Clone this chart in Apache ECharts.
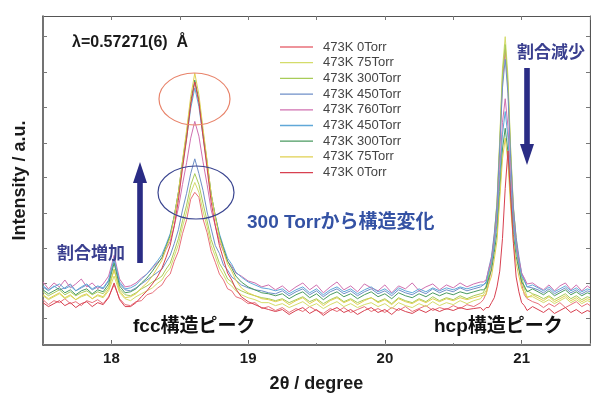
<!DOCTYPE html>
<html>
<head>
<meta charset="utf-8">
<script src="https://cdn.jsdelivr.net/npm/echarts@6/dist/echarts.min.js"></script>
<style>
  html, body { margin: 0; padding: 0; background: #fff; }
  #main { width: 591px; height: 398px; }
</style>
</head>
<body>
<div id="main"></div>
<script>
// 2theta sampling (degree)
var twoTheta = [
  17.50, 17.54, 17.58, 17.62, 17.66, 17.70, 17.74, 17.78, 17.82, 17.86, 17.90, 17.94, 17.98, 18.02, 18.06, 18.10, 18.14, 18.18, 18.22, 18.26, 18.30,
  18.34, 18.37, 18.40, 18.43, 18.46, 18.49, 18.52, 18.55, 18.58, 18.61, 18.64, 18.67, 18.70, 18.73, 18.76, 18.79, 18.82, 18.85, 18.88, 18.91,
  18.95, 19.00, 19.05, 19.10, 19.15, 19.20, 19.25, 19.30, 19.35, 19.40, 19.45, 19.50, 19.55, 19.60, 19.65, 19.70, 19.75, 19.80, 19.85, 19.90,
  19.95, 20.00, 20.05, 20.10, 20.15, 20.20, 20.25, 20.30, 20.35, 20.40, 20.45, 20.50, 20.55, 20.60, 20.65, 20.70,
  20.72, 20.74, 20.76, 20.78, 20.80, 20.82, 20.84, 20.86, 20.88, 20.90, 20.92, 20.94, 20.96, 20.98, 21.00, 21.02, 21.04,
  21.08, 21.12, 21.16, 21.20, 21.24, 21.28, 21.32, 21.36, 21.40, 21.44, 21.48, 21.50
];

// intensity (a.u.) per measurement
var int0a = [
  46, 41, 45, 43, 47, 42, 44, 40, 45, 43, 46, 42, 49, 61, 47, 41, 40, 44, 45, 51, 53,
  58, 61, 68, 72, 85, 95, 113, 127, 148, 155, 150, 128, 114, 95, 84, 72, 66, 57, 55, 49,
  47, 42, 43, 37, 39, 35, 38, 33, 37, 34, 39, 35, 32, 37, 34, 38, 33, 36, 39, 34, 37, 33, 38, 35, 39, 34, 37, 40, 35, 38, 36, 40, 37, 41, 39, 43,
  46, 52, 63, 80, 103, 138, 200, 268, 300, 262, 190, 133, 101, 78, 62, 51, 47,
  44, 42, 38, 42, 39, 43, 38, 41, 44, 39, 42, 40
];
var int75a = [
  50, 46, 49, 52, 47, 50, 46, 49, 51, 47, 50, 48, 55, 70, 53, 47, 45, 49, 52, 55, 58,
  63, 66, 73, 78, 90, 102, 120, 135, 154, 165, 155, 136, 120, 101, 90, 78, 71, 63, 60, 55,
  51, 48, 46, 43, 43, 40, 42, 38, 41, 44, 39, 42, 37, 41, 44, 39, 42, 38, 41, 43, 39, 42, 37, 43, 40, 38, 42, 39, 44, 40, 43, 41, 45, 42, 45, 47,
  51, 55, 70, 84, 111, 146, 209, 281, 313, 273, 198, 141, 106, 84, 65, 57, 49,
  49, 46, 43, 46, 42, 45, 48, 43, 46, 42, 45, 44
];
var int300a = [
  54, 50, 53, 56, 51, 54, 50, 53, 55, 51, 54, 52, 59, 77, 57, 51, 50, 53, 57, 60, 64,
  67, 70, 77, 83, 95, 108, 126, 142, 162, 174, 163, 144, 126, 107, 95, 83, 76, 67, 64, 58,
  55, 52, 50, 48, 47, 45, 47, 43, 46, 49, 44, 47, 42, 46, 49, 44, 47, 43, 46, 48, 44, 47, 42, 48, 45, 43, 47, 44, 49, 45, 48, 46, 50, 47, 50, 52,
  53, 60, 71, 88, 110, 145, 206, 275, 305, 265, 197, 138, 109, 84, 70, 58, 55,
  52, 50, 47, 50, 46, 49, 52, 47, 50, 46, 49, 48
];
var int450a = [
  59, 55, 60, 56, 58, 62, 55, 58, 61, 56, 59, 57, 65, 86, 62, 56, 55, 58, 62, 66, 70,
  74, 77, 84, 91, 103, 117, 137, 154, 174, 189, 174, 157, 135, 118, 101, 93, 81, 76, 69, 66,
  61, 58, 56, 55, 53, 52, 55, 50, 54, 57, 51, 55, 49, 54, 57, 52, 55, 50, 54, 57, 52, 55, 50, 56, 53, 51, 55, 52, 57, 53, 56, 54, 58, 55, 57, 59,
  61, 64, 78, 90, 113, 142, 201, 261, 290, 255, 189, 139, 109, 90, 73, 66, 59,
  58, 56, 53, 57, 52, 55, 58, 53, 56, 52, 55, 54
];
var int760 = [
  64, 57, 63, 59, 66, 58, 62, 67, 59, 63, 57, 62, 70, 91, 67, 59, 60, 63, 68, 72, 78,
  84, 88, 97, 105, 121, 139, 163, 185, 210, 227, 212, 186, 163, 137, 121, 105, 95, 85, 80, 73,
  70, 65, 63, 59, 61, 56, 60, 54, 59, 63, 56, 61, 53, 59, 64, 56, 60, 54, 62, 58, 55, 61, 53, 60, 57, 63, 55, 59, 62, 56, 61, 58, 63, 59, 62, 64,
  64, 66, 77, 87, 106, 129, 178, 226, 250, 222, 168, 127, 102, 87, 73, 68, 62,
  63, 59, 56, 61, 55, 60, 63, 56, 61, 55, 60, 58
];
var int450b = [
  60, 56, 59, 62, 57, 60, 55, 59, 62, 57, 60, 58, 66, 88, 64, 57, 58, 61, 67, 72, 79,
  86, 92, 102, 113, 131, 154, 183, 210, 240, 261, 242, 212, 183, 152, 131, 113, 100, 88, 82, 74,
  69, 64, 61, 58, 57, 55, 57, 52, 56, 59, 53, 57, 51, 56, 59, 54, 57, 52, 56, 59, 54, 57, 52, 58, 55, 53, 57, 54, 58, 55, 58, 56, 59, 57, 59, 61,
  61, 63, 74, 83, 102, 123, 169, 214, 237, 211, 160, 122, 98, 83, 70, 65, 59,
  61, 58, 55, 59, 54, 57, 60, 55, 58, 54, 57, 56
];
var int300b = [
  56, 52, 55, 58, 53, 56, 51, 55, 57, 52, 56, 54, 62, 83, 60, 53, 54, 57, 63, 68, 75,
  83, 89, 100, 111, 131, 155, 186, 214, 247, 269, 249, 216, 186, 153, 131, 111, 98, 85, 78, 70,
  64, 59, 56, 53, 52, 50, 52, 47, 51, 54, 48, 52, 46, 51, 54, 49, 52, 47, 51, 54, 49, 52, 47, 53, 50, 48, 52, 49, 53, 50, 53, 51, 54, 52, 54, 56,
  56, 58, 68, 76, 94, 114, 156, 199, 220, 196, 148, 112, 90, 77, 64, 60, 54,
  57, 54, 51, 55, 50, 53, 56, 51, 54, 50, 53, 52
];
var int75b = [
  51, 47, 50, 53, 48, 51, 46, 50, 52, 47, 51, 49, 57, 76, 55, 48, 49, 52, 58, 63, 70,
  79, 86, 98, 109, 130, 155, 187, 218, 252, 276, 254, 220, 187, 153, 130, 109, 95, 82, 75, 66,
  58, 53, 50, 47, 46, 44, 46, 41, 45, 48, 42, 46, 40, 45, 48, 43, 46, 41, 45, 48, 43, 46, 41, 47, 44, 42, 46, 43, 47, 44, 47, 45, 48, 46, 48, 50,
  50, 51, 62, 70, 87, 106, 148, 189, 210, 186, 139, 105, 83, 70, 58, 53, 48,
  51, 48, 45, 49, 44, 47, 50, 45, 48, 44, 47, 46
];
var int0b = [
  43, 39, 42, 45, 40, 43, 38, 42, 44, 39, 43, 41, 48, 63, 46, 39, 39, 43, 49, 55, 62,
  70, 78, 89, 101, 121, 147, 179, 209, 244, 267, 246, 212, 179, 145, 121, 101, 87, 73, 66, 57,
  49, 44, 41, 38, 36, 34, 36, 31, 35, 38, 32, 36, 30, 35, 38, 33, 36, 31, 35, 38, 33, 36, 31, 37, 34, 32, 36, 33, 37, 34, 37, 35, 38, 36, 37, 38,
  35, 38, 38, 43, 48, 59, 75, 108, 159, 197, 150, 103, 69, 54, 43, 40, 35,
  39, 36, 33, 37, 32, 35, 38, 33, 36, 32, 35, 34
];

// legend names (trailing space keeps repeated names apart)
var seriesNames = ['473K 0Torr', '473K 75Torr', '473K 300Torr', '473K 450Torr', '473K 760Torr',
  '473K 450Torr ', '473K 300Torr ', '473K 75Torr ', '473K 0Torr '];
var seriesData = [int0a, int75a, int300a, int450a, int760, int450b, int300b, int75b, int0b];
var lineColors = ['#e8707a', '#d4dc6a', '#a8cc58', '#6f8fc8', '#d070b0', '#60a8d8', '#4a9a60', '#e0d050', '#d84050'];

var xMajorTicks = [18, 19, 20, 21];
var yTicks = [27, 62.5, 98, 134, 170, 205, 241, 277, 313];

var latin = '"Liberation Sans", Arial, "Noto Sans CJK JP", sans-serif';

var chart = echarts.init(document.getElementById('main'));

var series = seriesData.map(function (ys, k) {
  return {
    name: seriesNames[k],
    type: 'line',
    symbol: 'none',
    showSymbol: false,
    color: lineColors[k],
    lineStyle: { width: 1, color: lineColors[k] },
    data: twoTheta.map(function (x, i) { return [x, ys[i]]; })
  };
});

chart.setOption({
  animation: false,
  backgroundColor: '#fff',
  grid: { left: 43, right: 1, top: 16, bottom: 48 },
  legend: {
    data: seriesNames,
    orient: 'vertical',
    left: 280,
    top: 40,
    padding: 0,
    icon: 'rect',
    itemWidth: 33,
    itemHeight: 1.3,
    itemGap: 1.7,
    textStyle: { fontSize: 13, color: '#444', fontFamily: latin, lineHeight: 14, padding: [0, 0, 0, 5] }
  },
  xAxis: [
    {
      type: 'value', min: 17.5, max: 21.5,
      name: '2θ / degree', nameLocation: 'middle', nameGap: 30,
      nameTextStyle: { fontSize: 18, fontWeight: 'bold', color: '#1a1a1a', fontFamily: latin },
      axisLine: { show: true, lineStyle: { color: '#444', width: 1.5 } },
      axisTick: { show: true, inside: true, length: 5, customValues: xMajorTicks, lineStyle: { color: '#666' } },
      axisLabel: { customValues: xMajorTicks, fontSize: 15, fontWeight: 'bold', color: '#1a1a1a', fontFamily: latin, margin: 6 },
      splitLine: { show: false }
    },
    {
      type: 'value', min: 17.5, max: 21.5, interval: 0.5, position: 'bottom',
      axisLine: { show: false },
      axisTick: { show: true, inside: true, length: 2, lineStyle: { color: '#888' } },
      axisLabel: { show: false },
      splitLine: { show: false }
    },
    {
      type: 'value', min: 17.5, max: 21.5, interval: 0.5, position: 'top',
      axisLine: { show: true, lineStyle: { color: '#555', width: 1.2 } },
      axisTick: { show: true, inside: true, length: 4, lineStyle: { color: '#777' } },
      axisLabel: { show: false },
      splitLine: { show: false }
    }
  ],
  yAxis: [
    {
      type: 'value', min: 0, max: 334,
      name: 'Intensity / a.u.', nameLocation: 'middle', nameGap: 14,
      nameTextStyle: { fontSize: 18, fontWeight: 'bold', color: '#1a1a1a', fontFamily: latin },
      axisLine: { show: true, lineStyle: { color: '#444', width: 1.5 } },
      axisTick: { show: true, inside: true, length: 4, customValues: yTicks, lineStyle: { color: '#777' } },
      axisLabel: { show: false },
      splitLine: { show: false }
    },
    {
      type: 'value', min: 0, max: 334, position: 'right',
      axisLine: { show: true, lineStyle: { color: '#555', width: 1.2 } },
      axisTick: { show: true, inside: true, length: 4, customValues: yTicks, lineStyle: { color: '#777' } },
      axisLabel: { show: false },
      splitLine: { show: false }
    }
  ],
  graphic: [
    { type: 'ellipse', shape: { cx: 194.5, cy: 99, rx: 35.5, ry: 26 }, style: { fill: 'none', stroke: '#e8836a', lineWidth: 1.2 }, z: 100 },
    { type: 'ellipse', shape: { cx: 196, cy: 192.5, rx: 38, ry: 26.5 }, style: { fill: 'none', stroke: '#3a4590', lineWidth: 1.2 }, z: 100 },
    { type: 'polygon', shape: { points: [[140, 162], [147, 183], [142.8, 183], [142.8, 263], [137.2, 263], [137.2, 183], [133, 183]] }, style: { fill: '#2a2c85' }, z: 100 },
    { type: 'polygon', shape: { points: [[527, 165], [534, 144], [529.8, 144], [529.8, 68], [524.2, 68], [524.2, 144], [520, 144]] }, style: { fill: '#2a2c85' }, z: 100 },
    { type: 'text', x: 72, y: 43, style: { text: 'λ=0.57271(6)  Å', fontSize: 16, fontWeight: 'bold', fontFamily: latin, fill: '#1a1a1a', textVerticalAlign: 'middle' }, z: 100 },
    { type: 'text', x: 57, y: 253, style: { text: '割合増加', fontSize: 17, fontWeight: 'bold', fontFamily: '"Noto Sans CJK JP", sans-serif', fill: '#3a3f8f', textVerticalAlign: 'middle' }, z: 100 },
    { type: 'text', x: 517, y: 52, style: { text: '割合減少', fontSize: 17, fontWeight: 'bold', fontFamily: '"Noto Sans CJK JP", sans-serif', fill: '#3a3f8f', textVerticalAlign: 'middle' }, z: 100 },
    { type: 'text', x: 247, y: 223, style: { text: '300 Torrから構造変化', fontSize: 19, fontWeight: 'bold', fontFamily: latin, fill: '#3452a4', textVerticalAlign: 'middle' }, z: 100 },
    { type: 'text', x: 133, y: 327, style: { text: 'fcc構造ピーク', fontSize: 19, fontWeight: 'bold', fontFamily: latin, fill: '#111', textVerticalAlign: 'middle' }, z: 100 },
    { type: 'text', x: 434, y: 327, style: { text: 'hcp構造ピーク', fontSize: 19, fontWeight: 'bold', fontFamily: latin, fill: '#111', textVerticalAlign: 'middle' }, z: 100 }
  ],
  series: series
});
</script>
</body>
</html>
